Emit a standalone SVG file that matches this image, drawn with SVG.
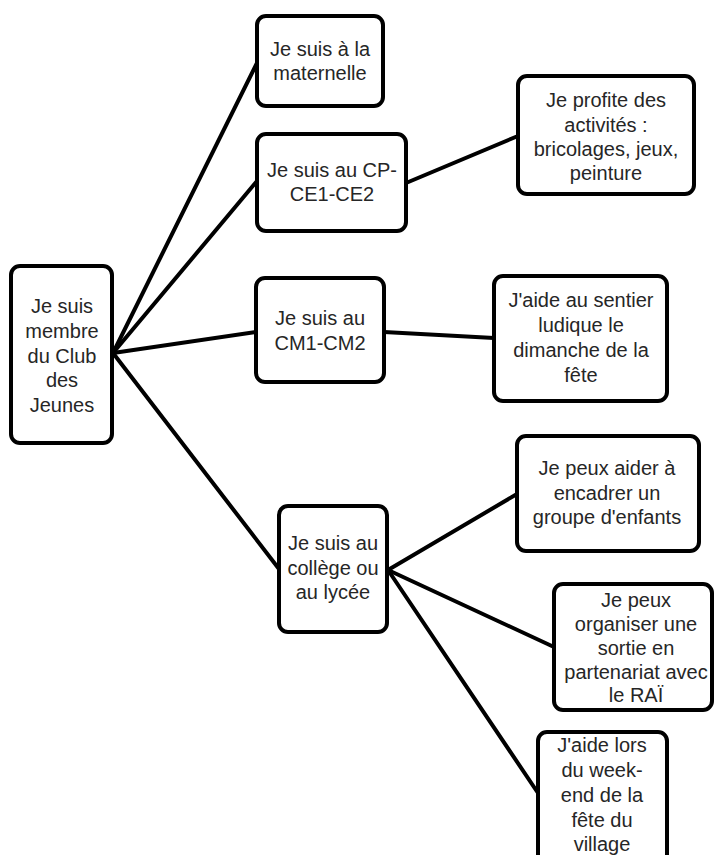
<svg xmlns="http://www.w3.org/2000/svg" width="717" height="855" viewBox="0 0 717 855">
<style>
.box{fill:#fff;stroke:#000;stroke-width:4}
.t{font-family:"Liberation Sans",Arial,sans-serif;font-size:20px;fill:#262626;text-anchor:middle}
.c{stroke:#000;stroke-width:4;stroke-linecap:round;fill:none}
</style>
<rect width="717" height="855" fill="#fff"/>
<g id="connectors">
<line class="c" x1="113" y1="353" x2="257" y2="63"/>
<line class="c" x1="113" y1="353" x2="257" y2="181"/>
<line class="c" x1="113" y1="353" x2="256" y2="332"/>
<line class="c" x1="113" y1="353" x2="279" y2="569"/>
<line class="c" x1="406" y1="183" x2="518" y2="136"/>
<line class="c" x1="384" y1="332" x2="494" y2="338"/>
<line class="c" x1="388" y1="570" x2="517" y2="494"/>
<line class="c" x1="388" y1="570" x2="554" y2="647"/>
<line class="c" x1="388" y1="570" x2="538" y2="793"/>
</g>
<g id="root">
<rect class="box" x="11" y="266" width="101" height="177" rx="9"/>
<text class="t"><tspan x="62" y="313">Je suis</tspan><tspan x="62" y="338">membre</tspan><tspan x="62" y="363">du Club</tspan><tspan x="62" y="387">des</tspan><tspan x="62" y="412">Jeunes</tspan></text>
</g>
<g id="maternelle">
<rect class="box" x="257" y="16" width="126" height="90" rx="9"/>
<text class="t"><tspan x="320" y="56">Je suis à la</tspan><tspan x="320" y="80">maternelle</tspan></text>
</g>
<g id="cp">
<rect class="box" x="257" y="134" width="149" height="97" rx="9"/>
<text class="t"><tspan x="332" y="177">Je suis au CP-</tspan><tspan x="332" y="201">CE1-CE2</tspan></text>
</g>
<g id="activites">
<rect class="box" x="518" y="76" width="176" height="118" rx="9"/>
<text class="t"><tspan x="606" y="107">Je profite des</tspan><tspan x="606" y="132">activités :</tspan><tspan x="606" y="156">bricolages, jeux,</tspan><tspan x="606" y="180">peinture</tspan></text>
</g>
<g id="cm">
<rect class="box" x="256" y="278" width="128" height="104" rx="9"/>
<text class="t"><tspan x="320" y="325">Je suis au</tspan><tspan x="320" y="350">CM1-CM2</tspan></text>
</g>
<g id="sentier">
<rect class="box" x="494" y="276" width="173" height="125" rx="9"/>
<text class="t"><tspan x="581" y="307">J'aide au sentier</tspan><tspan x="581" y="332">ludique le</tspan><tspan x="581" y="357">dimanche de la</tspan><tspan x="581" y="382">fête</tspan></text>
</g>
<g id="college">
<rect class="box" x="279" y="506" width="108" height="126" rx="9"/>
<text class="t"><tspan x="333" y="550">Je suis au</tspan><tspan x="333" y="575">collège ou</tspan><tspan x="333" y="599">au lycée</tspan></text>
</g>
<g id="encadrer">
<rect class="box" x="517" y="436" width="182" height="115" rx="9"/>
<text class="t"><tspan x="607" y="475">Je peux aider à</tspan><tspan x="607" y="500">encadrer un</tspan><tspan x="607" y="524">groupe d'enfants</tspan></text>
</g>
<g id="sortie">
<rect class="box" x="554" y="584" width="158" height="126" rx="9"/>
<text class="t"><tspan x="636" y="607">Je peux</tspan><tspan x="636" y="631">organiser une</tspan><tspan x="636" y="655">sortie en</tspan><tspan x="636" y="679">partenariat avec</tspan><tspan x="636" y="702">le RAÏ</tspan></text>
</g>
<g id="village">
<rect class="box" x="538" y="732" width="129" height="150" rx="9"/>
<text class="t"><tspan x="602" y="752">J'aide lors</tspan><tspan x="602" y="777">du week-</tspan><tspan x="602" y="802">end de la</tspan><tspan x="602" y="827">fête du</tspan><tspan x="602" y="851">village</tspan></text>
</g>
</svg>
